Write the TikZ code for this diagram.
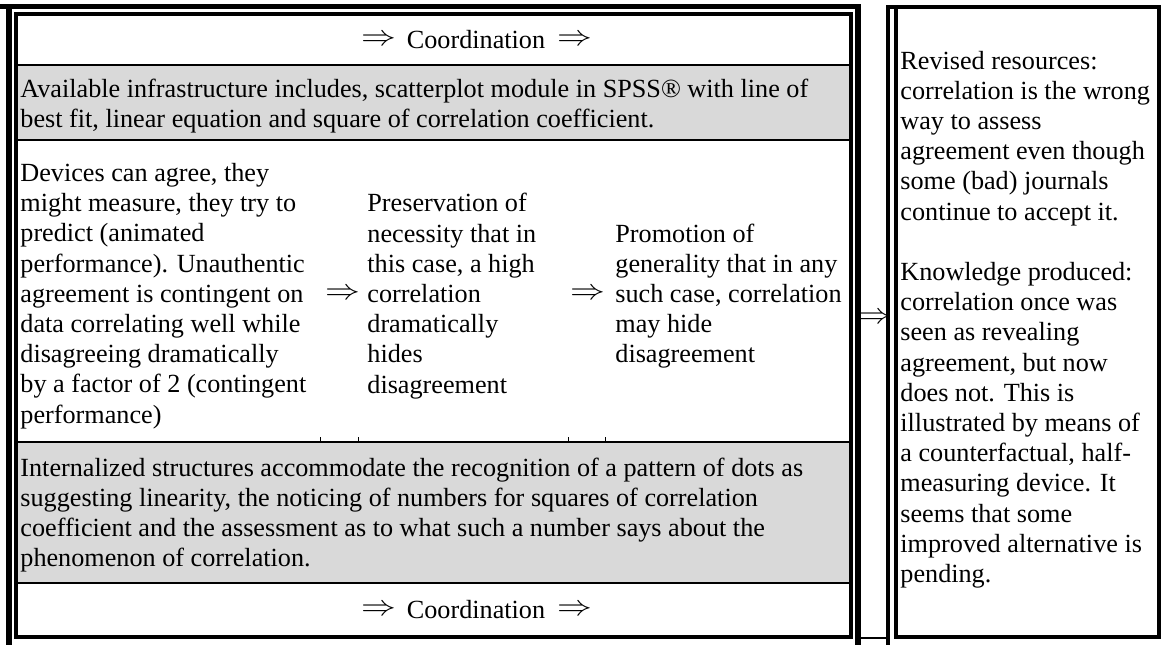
\documentclass[tikz,border=0pt]{standalone}
\usepackage{fontspec}
\setmainfont{Liberation Serif}
\newcommand{\bigimp}{\scalebox{1.45}[1.2]{$\Rightarrow$}}
\begin{document}
\begin{tikzpicture}[x=0.5pt,y=-0.5pt,
  txt/.style={inner sep=0pt,anchor=west,align=left,font=\fontsize{13.1pt}{15.1pt}\selectfont},
  arr/.style={inner sep=0pt,font=\fontsize{13.1pt}{15.1pt}\selectfont},
  outerln/.style={line width=3pt},
  innerln/.style={line width=2pt},
  rowln/.style={line width=1pt},
  tick/.style={line width=0.5pt},
  cellgray/.style={fill=black!15,draw=none}]
\useasboundingbox (0,0) rectangle (1165,645);
% gray rows
\fill[cellgray] (16,65) rectangle (851,140);
\fill[cellgray] (16,442) rectangle (851,583);
% left table frame
\draw[line width=2.5pt] (0,6.5) -- (861,6.5);
\draw[outerln] (9,4) -- (9,645);
\draw[outerln] (858,4) -- (858,645);
\draw[innerln] (16,14) rectangle (851,637);
\draw[rowln] (16,65) -- (851,65);
\draw[rowln] (16,140) -- (851,140);
\draw[rowln] (16,442) -- (851,442);
\draw[rowln] (16,583) -- (851,583);
% small ticks above row line
\foreach \tx in {320,358,568,605}{\draw[tick] (\tx,437) -- (\tx,442);}
% middle column
\draw[innerln] (888,5) -- (888,645);
\draw[rowln] (861,638) -- (888,638);
% right box
\draw[innerln] (888,6.5) -- (896,6.5);
\draw[innerln] (896,6.5) rectangle (1158.5,637);

% row 1
\node[arr] (r1a) at (379,40) {\bigimp};
\node[arr] (r1t) at (476,40) {Coordination};
\node[arr] (r1b) at (575,40) {\bigimp};
% row 2
\node[txt] (avail) at (20,106) {Available infrastructure includes, scatterplot module in SPSS\textregistered{} with line of\\best fit, linear equation and square of correlation coefficient.};
% row 3
\node[txt] (devices) at (20,296) {Devices can agree, they\\might measure, they try to\\predict (animated\\performance). Unauthentic\\agreement is contingent on\\data correlating well while\\disagreeing dramatically\\by a factor of 2 (contingent\\performance)};
\node[arr] (a1) at (343,294) {\bigimp};
\node[txt] (pres) at (367,296) {Preservation of\\necessity that in\\this case, a high\\correlation\\dramatically\\hides\\disagreement};
\node[arr] (a2) at (588,294) {\bigimp};
\node[txt] (prom) at (615,296) {Promotion of\\generality that in any\\such case, correlation\\may hide\\disagreement};
% row 4
\node[txt] (intern) at (20,515) {Internalized structures accommodate the recognition of a pattern of dots as\\suggesting linearity, the noticing of numbers for squares of correlation\\coefficient and the assessment as to what such a number says about the\\phenomenon of correlation.};
% row 5
\node[arr] (r5a) at (379,610) {\bigimp};
\node[arr] (r5t) at (476,610) {Coordination};
\node[arr] (r5b) at (575,610) {\bigimp};
% middle arrow
\node[arr] (mid) at (875,318) {\bigimp};
% right box text
\node[txt] (revised) at (900,319.5) {Revised resources:\\correlation is the wrong\\way to assess\\agreement even though\\some (bad) journals\\continue to accept it.\\[15.1pt]Knowledge produced:\\correlation once was\\seen as revealing\\agreement, but now\\does not. This is\\illustrated by means of\\a counterfactual, half-\\measuring device. It\\seems that some\\improved alternative is\\pending.};
\end{tikzpicture}
\end{document}
